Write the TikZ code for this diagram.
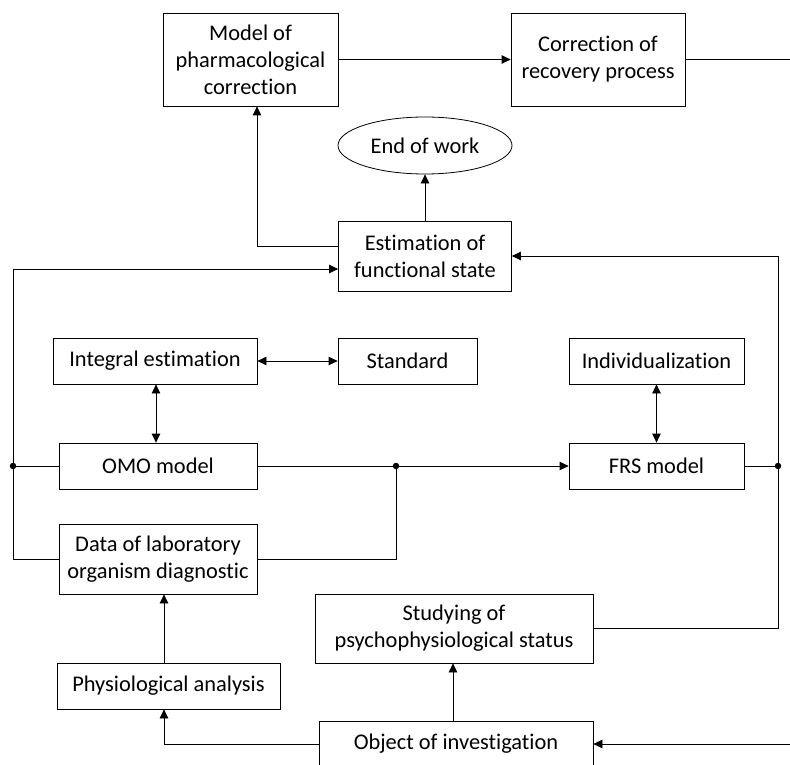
\documentclass[tikz,border=0pt]{standalone}
\usepackage{fontspec}
\setmainfont{Carlito}[Ligatures=NoCommon]
\usetikzlibrary{arrows.meta,shapes.geometric}

\begin{document}
\begin{tikzpicture}[%
    x=1pt, y=-1pt,
    block/.style={%
        draw,
        rectangle,
        align=center,
        inner sep=0pt,
        line width=0.8pt,
        font=\fontsize{22.4}{27}\selectfont
    },
    terminal/.style={%
        draw,
        ellipse,
        inner sep=0pt,
        line width=0.8pt,
        minimum width=174pt,
        minimum height=57pt,
        font=\fontsize{22.4}{27}\selectfont
    },
    junction/.style={%
        circle,
        fill,
        inner sep=0pt,
        minimum size=6.5pt
    },
    every path/.style={line width=0.8pt},
    >={Triangle[length=9pt,width=8.5pt]}
]
\useasboundingbox (0,0) rectangle (790,765);

% Correction loop
    \node[block, minimum width=175pt, minimum height=93pt] (model) at (250.5,59.5) {Model of\\pharmacological\\correction};
    \node[block, minimum width=174pt, minimum height=93pt] (correction) at (598,59.5) {Correction of\\recovery process};
    \node[terminal] (endwork) at (425,145.5) {End of work};
    \node[block, minimum width=173pt, minimum height=70pt] (estimation) at (425,256) {Estimation of\\functional state};

% Models
    \node[block, minimum width=204pt, minimum height=46pt] (integral) at (155,361) {Integral estimation};
    \node[block, minimum width=139pt, minimum height=46pt] (standard) at (407.5,361) {Standard};
    \node[block, minimum width=175pt, minimum height=46pt] (individual) at (656.5,361) {Individualization};
    \node[block, minimum width=198pt, minimum height=46pt] (omo) at (158,466) {OMO model};
    \node[block, minimum width=175pt, minimum height=46pt] (frs) at (656.5,466) {FRS model};

% Diagnostics
    \node[block, minimum width=198pt, minimum height=70pt] (data) at (158,559) {Data of laboratory\\organism diagnostic};
    \node[block, minimum width=278pt, minimum height=69pt] (studying) at (454,628.5) {Studying of\\psychophysiological status};
    \node[block, minimum width=223pt, minimum height=46pt] (physio) at (168.5,686) {Physiological analysis};
    \node[block, minimum width=274pt, minimum height=46pt] (object) at (456,744) {Object of investigation};

% Junctions and loose ends
    \node[junction] (jL) at (13,466) {};
    \node[junction] (jM) at (396,466) {};
    \node[junction] (jR) at (778,466) {};
    \coordinate (leftTop) at (13,269);
    \coordinate (rightTop) at (778,256);
    \coordinate (edgeTop) at (790,59.5);
    \coordinate (edgeBot) at (790,744);

% Arrows
\draw[->] (model) -- (correction);
\draw (correction.east) -- (edgeTop);
\draw[->] (estimation) -- (endwork);
\draw[->] ([yshift=10pt]estimation.west) -| ([xshift=6.5pt]model.south);

\draw[<->] (integral) -- (standard);
\draw[<->] ([xshift=1pt]integral.south) -- ([xshift=1pt]integral.south |- omo.north);
\draw[<->] (individual) -- (frs);

\draw (omo.west) -- (jL.center);
\draw (omo.east) -- (jM.center);
\draw[->] (jM.center) -- (frs.west);
\draw (frs.east) -- (jR.center);
\draw (data.east) -| (jM.center);
\draw[->] (data.west) -| (leftTop) -- ([yshift=-13pt]estimation.west);
\draw[->] (studying.east) -| (rightTop) -- (estimation.east);

\draw[->] ([xshift=-4.5pt]physio.north) -- ([xshift=-4.5pt]physio.north |- data.south);
\draw[->] (object.west) -| ([xshift=-4.5pt]physio.south);
\draw[->] ([xshift=-3pt]object.north) -- ([xshift=-3pt]object.north |- studying.south);
\draw[->] (edgeBot) -- (object.east);

\end{tikzpicture}
\end{document}
